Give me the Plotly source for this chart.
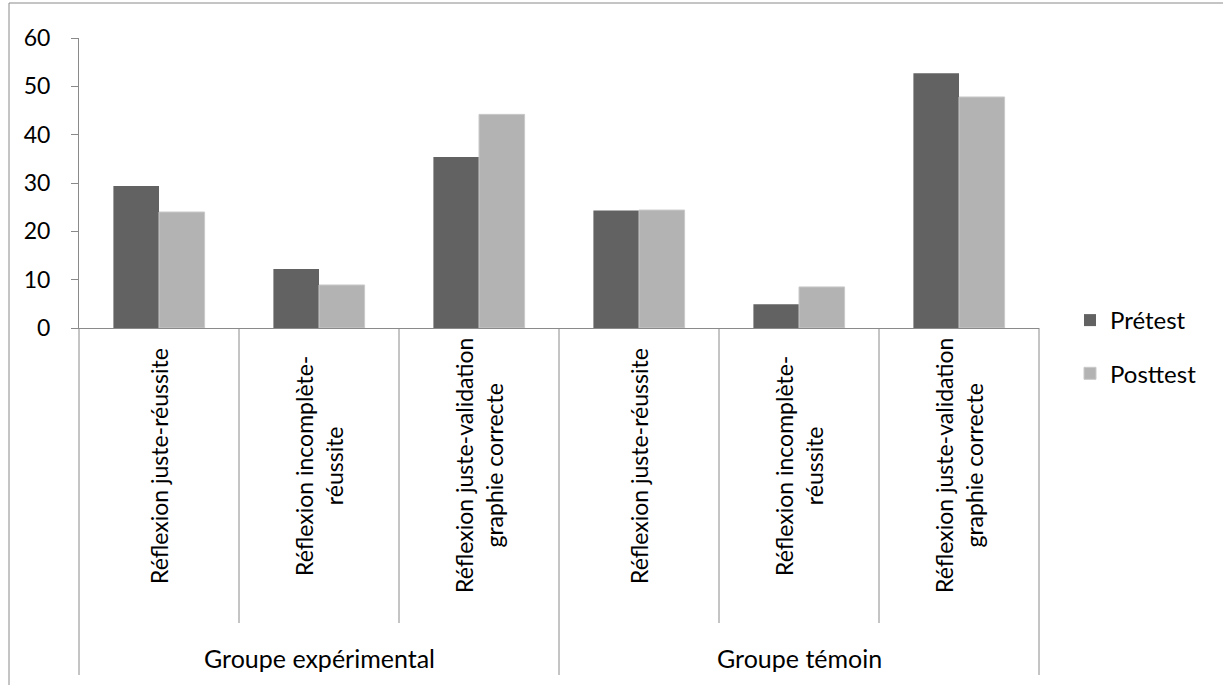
import plotly.graph_objects as go

# Subcategories and their parent groups
subcats = [
    "Réflexion juste-réussite",
    "Réflexion incomplète-<br>réussite",
    "Réflexion juste-validation<br>graphie correcte",
    "Réflexion juste-réussite",
    "Réflexion incomplète-<br>réussite",
    "Réflexion juste-validation<br>graphie correcte",
]
groups = ["Groupe expérimental", "Groupe témoin"]
group_span = [3, 3]

pretest = [29.4, 12.2, 35.4, 24.3, 4.9, 52.7]
posttest = [24.0, 8.9, 44.2, 24.4, 8.5, 47.8]
yticks = [0, 10, 20, 30, 40, 50, 60]

W, H = 1223, 685
ML, MR, MT, MB = 79, 184, 38, 357
PW = W - ML - MR
PH = H - MT - MB

FONT = "Lato"
AXIS = "#8a8a8a"

xs = list(range(len(subcats)))

fig = go.Figure()
fig.add_trace(go.Bar(
    x=xs, y=pretest, name="Prétest", legendgroup="a",
    marker=dict(color="#626262", line=dict(width=0)),
))
fig.add_trace(go.Bar(
    x=xs, y=posttest, name="Posttest", legendgroup="b",
    marker=dict(color="#b3b3b3", line=dict(color="#c9c9c9", width=1)),
))


def px_x(p):
    return (p - ML) / PW


def px_y(p):
    return (H - MB - p) / PH


n = len(subcats)
shapes = []
# category dividers below the axis
bounds = [0]
for s in group_span:
    bounds.append(bounds[-1] + s)
for i in range(n + 1):
    outer = i in bounds
    shapes.append(dict(
        type="line", xref="paper", yref="paper",
        x0=i / n, x1=i / n, y0=0, y1=px_y(675 if outer else 623),
        line=dict(color=AXIS, width=1),
    ))
# chart frame (top and left edges)
shapes.append(dict(type="line", xref="paper", yref="paper",
                   x0=px_x(9), x1=px_x(W + 5), y0=px_y(3), y1=px_y(3),
                   line=dict(color=AXIS, width=1)))
shapes.append(dict(type="line", xref="paper", yref="paper",
                   x0=px_x(9), x1=px_x(9), y0=px_y(3), y1=px_y(H + 5),
                   line=dict(color=AXIS, width=1)))

annotations = []
for i, lab in enumerate(subcats):
    annotations.append(dict(
        x=i, xref="x", y=px_y(466), yref="paper",
        text=lab, textangle=-90, showarrow=False,
        font=dict(family=FONT, size=23, color="#000000"),
        xanchor="center", yanchor="middle",
    ))
start = 0
for g, s in zip(groups, group_span):
    annotations.append(dict(
        x=start + (s - 1) / 2, xref="x", y=px_y(658), yref="paper",
        text=g, showarrow=False,
        font=dict(family=FONT, size=25, color="#000000"),
        xanchor="center", yanchor="middle",
    ))
    start += s

fig.update_layout(
    width=W, height=H,
    margin=dict(l=ML, r=MR, t=MT, b=MB, pad=0),
    paper_bgcolor="white", plot_bgcolor="white",
    barmode="group", bargap=0.43, bargroupgap=0,
    font=dict(family=FONT, size=23, color="#000000"),
    xaxis=dict(
        range=[-0.5, n - 0.5], showticklabels=False, ticks="",
        showgrid=False, zeroline=False, showline=True,
        linecolor=AXIS, linewidth=1, fixedrange=True,
    ),
    yaxis=dict(
        range=[0, 60], tickvals=yticks, showgrid=False, zeroline=False,
        showline=True, linecolor=AXIS, linewidth=1,
        ticks="outside", ticklen=7, tickcolor=AXIS, tickwidth=1,
        ticklabelstandoff=16,
        tickfont=dict(family=FONT, size=23, color="#000000"),
    ),
    legend=dict(
        x=px_x(1070), xanchor="left", y=px_y(298), yanchor="top",
        font=dict(family=FONT, size=24, color="#000000"),
        tracegroupgap=19, bgcolor="rgba(0,0,0,0)",
    ),
    shapes=shapes,
    annotations=annotations,
)

fig.write_html("out.html")
